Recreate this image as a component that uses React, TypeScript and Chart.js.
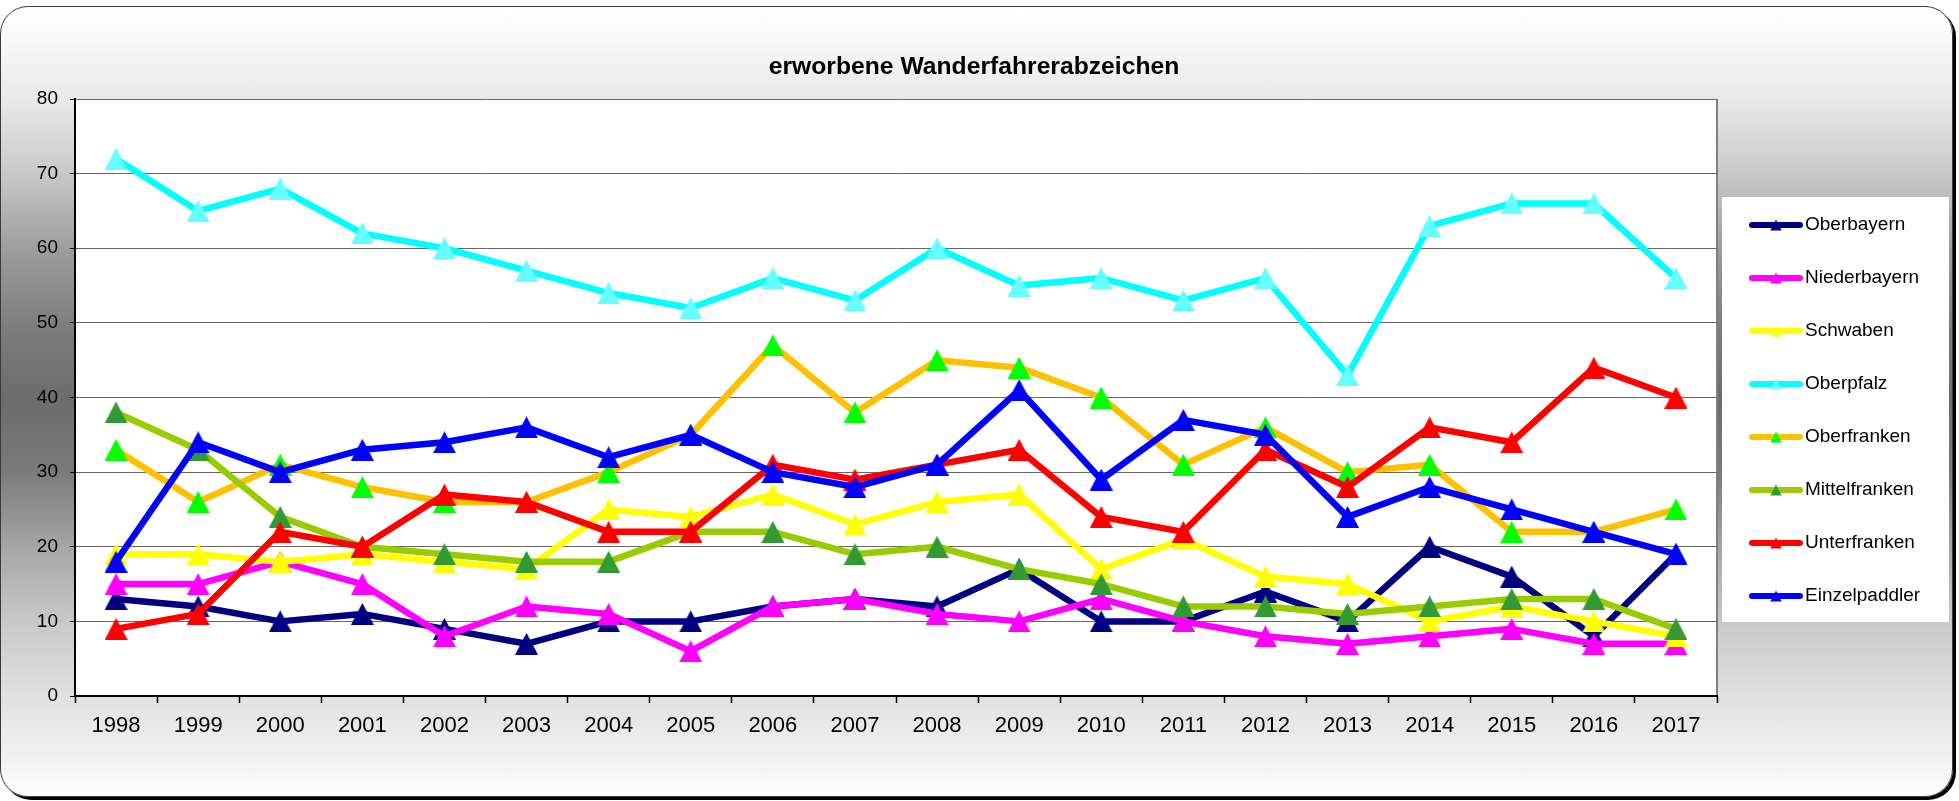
import React, { useEffect, useRef } from 'react';
import { Chart, registerables } from 'chart.js';

Chart.register(...registerables);

const titleText = 'erworbene Wanderfahrerabzeichen';
const years = ['1998', '1999', '2000', '2001', '2002', '2003', '2004', '2005', '2006', '2007', '2008', '2009', '2010', '2011', '2012', '2013', '2014', '2015', '2016', '2017'];
const yMin = 0;
const yMax = 80;
const yStep = 10;

const seriesNames = ['Oberbayern', 'Niederbayern', 'Schwaben', 'Oberpfalz', 'Oberfranken', 'Mittelfranken', 'Unterfranken', 'Einzelpaddler'];

const oberbayern = [13, 12, 10, 11, 9, 7, 10, 10, 12, 13, 12, 17, 10, 10, 14, 10, 20, 16, 8, 19];
const niederbayern = [15, 15, 18, 15, 8, 12, 11, 6, 12, 13, 11, 10, 13, 10, 8, 7, 8, 9, 7, 7];
const schwaben = [19, 19, 18, 19, 18, 17, 25, 24, 27, 23, 26, 27, 17, 21, 16, 15, 10, 12, 10, 8];
const oberpfalz = [72, 65, 68, 62, 60, 57, 54, 52, 56, 53, 60, 55, 56, 53, 56, 43, 63, 66, 66, 56];
const oberfranken = [33, 26, 31, 28, 26, 26, 30, 35, 47, 38, 45, 44, 40, 31, 36, 30, 31, 22, 22, 25];
const mittelfranken = [38, 33, 24, 20, 19, 18, 18, 22, 22, 19, 20, 17, 15, 12, 12, 11, 12, 13, 13, 9];
const unterfranken = [9, 11, 22, 20, 27, 26, 22, 22, 31, 29, 31, 33, 24, 22, 33, 28, 36, 34, 44, 40];
const einzelpaddler = [18, 34, 30, 33, 34, 36, 32, 35, 30, 28, 31, 41, 29, 37, 35, 24, 28, 25, 22, 19];

const lineColors = ['#000080', '#FF00FF', '#FFFF00', '#00FFFF', '#FFC000', '#99CC00', '#FF0000', '#0000FF'];
const markerColors = ['#000080', '#FF00FF', '#FFFF00', '#66FFFF', '#00FF00', '#339933', '#FF0000', '#0000FF'];

const FONT = "'Liberation Sans', Arial, sans-serif";

function makeTriangle(color: string, w: number, h: number): HTMLCanvasElement {
  const c = document.createElement('canvas');
  c.width = w;
  c.height = h;
  const ctx = c.getContext('2d')!;
  ctx.fillStyle = color;
  ctx.beginPath();
  ctx.moveTo(w / 2, 0);
  ctx.lineTo(w, h);
  ctx.lineTo(0, h);
  ctx.closePath();
  ctx.fill();
  return c;
}

export default function App() {
  const ref = useRef<HTMLCanvasElement>(null);

  useEffect(() => {
    document.body.style.margin = '0';
    const canvas = ref.current!;
    const values = [oberbayern, niederbayern, schwaben, oberpfalz, oberfranken, mittelfranken, unterfranken, einzelpaddler];

    const datasets = seriesNames.map((name, i) => ({
      label: name,
      data: values[i],
      borderColor: lineColors[i],
      backgroundColor: markerColors[i],
      borderWidth: 6.5,
      borderJoinStyle: 'round' as const,
      borderCapStyle: 'round' as const,
      tension: 0,
      pointStyle: makeTriangle(markerColors[i], 23, 22),
      pointRadius: 11,
      pointHoverRadius: 11,
      pointBorderWidth: 0,
      order: seriesNames.length - i,
    }));

    const plotBg = {
      id: 'plotBg',
      beforeDraw(chart: any) {
        const { ctx, chartArea: a } = chart;
        ctx.save();
        ctx.fillStyle = '#ffffff';
        ctx.fillRect(a.left, a.top, a.right - a.left, a.bottom - a.top);
        ctx.strokeStyle = '#808080';
        ctx.lineWidth = 2;
        ctx.beginPath();
        ctx.moveTo(a.right, a.top);
        ctx.lineTo(a.right, a.bottom);
        ctx.stroke();
        ctx.restore();
      },
    };

    const titleLegend = {
      id: 'titleLegend',
      afterDraw(chart: any) {
        const ctx: CanvasRenderingContext2D = chart.ctx;
        ctx.save();
        ctx.fillStyle = '#000';
        ctx.font = `bold 24.7px ${FONT}`;
        ctx.textAlign = 'center';
        ctx.textBaseline = 'alphabetic';
        ctx.fillText(titleText, 974, 74);

        const bx = 1722, by = 197, bw = 227, bh = 425;
        ctx.fillStyle = '#ffffff';
        ctx.fillRect(bx, by, bw, bh);
        chart.data.datasets.forEach((ds: any, i: number) => {
          const y = 225 + 53 * i;
          ctx.strokeStyle = ds.borderColor;
          ctx.lineWidth = 6;
          ctx.lineCap = 'round';
          ctx.beginPath();
          ctx.moveTo(1752, y);
          ctx.lineTo(1800, y);
          ctx.stroke();
          ctx.fillStyle = ds.backgroundColor;
          ctx.beginPath();
          ctx.moveTo(1776, y - 5.5);
          ctx.lineTo(1781.7, y + 5.5);
          ctx.lineTo(1770.3, y + 5.5);
          ctx.closePath();
          ctx.fill();
          ctx.fillStyle = '#000';
          ctx.font = `19px ${FONT}`;
          ctx.textAlign = 'left';
          ctx.textBaseline = 'middle';
          ctx.fillText(ds.label, 1805, y);
        });
        ctx.restore();
      },
    };

    const chart = new Chart(canvas, {
      type: 'line',
      data: { labels: years, datasets: datasets as any },
      options: {
        responsive: false,
        animation: false,
        devicePixelRatio: 1,
        events: [],
        layout: { padding: { top: 99, right: 242, left: 0, bottom: 0 } },
        plugins: {
          legend: { display: false },
          title: { display: false },
          tooltip: { enabled: false },
        },
        scales: {
          x: {
            type: 'category',
            offset: true,
            grid: {
              display: true,
              drawOnChartArea: false,
              drawTicks: true,
              tickLength: 7,
              tickColor: '#000',
              tickWidth: 1.5,
              offset: true,
            },
            border: { display: true, color: '#000', width: 2 },
            ticks: {
              font: { family: FONT, size: 22 },
              color: '#000',
              padding: 10,
              maxRotation: 0,
              autoSkip: false,
            },
            afterFit: (s: any) => {
              s.height = 105;
            },
          },
          y: {
            min: yMin,
            max: yMax,
            ticks: {
              stepSize: yStep,
              font: { family: FONT, size: 19 },
              color: '#000',
              padding: 12,
            },
            grid: {
              color: '#666666',
              lineWidth: 1,
              drawTicks: true,
              tickLength: 5,
              tickColor: '#000',
            },
            border: { display: true, color: '#000', width: 2 },
            afterFit: (s: any) => {
              s.width = 75;
            },
          },
        },
      } as any,
      plugins: [plotBg, titleLegend],
    });
    return () => chart.destroy();
  }, []);

  const bg =
    'linear-gradient(to bottom, #ffffff 0px, #f8f8f8 34px, #e8e8e8 94px, #c8c8c8 168px, #9c9c9c 244px, #7c7c7c 324px, #6c6c6c 394px, #7a7a7a 464px, #a8a8a8 544px, #c8c8c8 614px, #e2e2e2 694px, #f2f2f2 754px, #ffffff 791px)';

  return (
    <div style={{ position: 'relative', width: 1959, height: 801, overflow: 'hidden', background: '#ffffff' }}>
      <div
        style={{
          position: 'absolute',
          left: 0,
          top: 6,
          width: 1953,
          height: 791,
          boxSizing: 'border-box',
          border: '1px solid #3a3a3a',
          borderRadius: 28,
          boxShadow: '3px 3px 0 #000',
          background: bg,
        }}
      />
      <canvas
        ref={ref}
        width={1959}
        height={801}
        style={{ position: 'absolute', left: 0, top: 0, width: 1959, height: 801 }}
      />
    </div>
  );
}
